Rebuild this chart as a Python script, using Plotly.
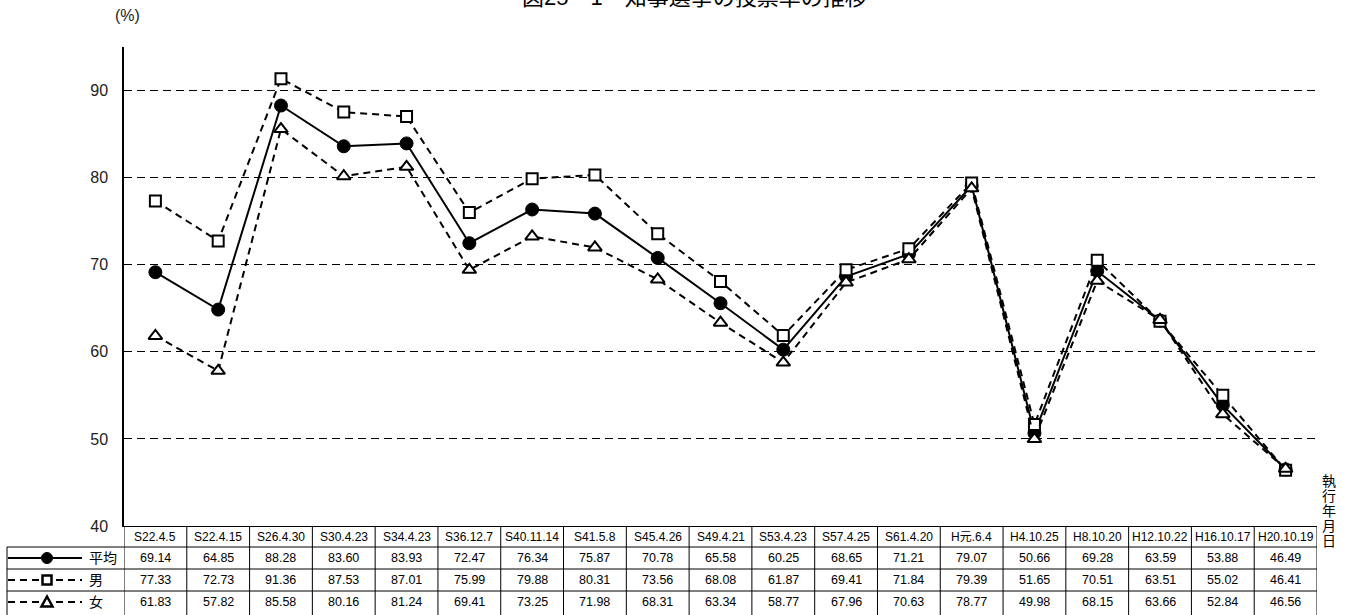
import plotly.graph_objects as go

# ---------------- data ----------------
dates = ["S22.4.5", "S22.4.15", "S26.4.30", "S30.4.23", "S34.4.23", "S36.12.7",
         "S40.11.14", "S41.5.8", "S45.4.26", "S49.4.21", "S53.4.23", "S57.4.25",
         "S61.4.20", "H元.6.4", "H4.10.25", "H8.10.20", "H12.10.22", "H16.10.17",
         "H20.10.19"]
avg = [69.14, 64.85, 88.28, 83.60, 83.93, 72.47, 76.34, 75.87, 70.78, 65.58,
       60.25, 68.65, 71.21, 79.07, 50.66, 69.28, 63.59, 53.88, 46.49]
male = [77.33, 72.73, 91.36, 87.53, 87.01, 75.99, 79.88, 80.31, 73.56, 68.08,
        61.87, 69.41, 71.84, 79.39, 51.65, 70.51, 63.51, 55.02, 46.41]
female = [61.83, 57.82, 85.58, 80.16, 81.24, 69.41, 73.25, 71.98, 68.31, 63.34,
          58.77, 67.96, 70.63, 78.77, 49.98, 68.15, 63.66, 52.84, 46.56]
series_names = ["平均", "男", "女"]
yticks = [40, 50, 60, 70, 80, 90]
title_text = "図25－1　知事選挙の投票率の推移"
xlabel_chars = ["執", "行", "年", "月", "日"]

# ---------------- geometry ----------------
W, H = 1347, 615
L, R, T, B = 124, 30, 47, 89
PW = W - L - R
PH = H - T - B
FONT = "Liberation Sans, Arial, Noto Sans CJK JP, sans-serif"


def px(X):
    return (X - L) / PW


def py(Y):
    return (H - B - Y) / PH


idx = list(range(len(dates)))

fig = go.Figure()
styles = [
    dict(line=dict(color="black", width=2),
         marker=dict(symbol="circle", size=13, color="black",
                     line=dict(color="black", width=1))),
    dict(line=dict(color="black", width=2, dash="7px,5px"),
         marker=dict(symbol="square", size=11, color="white",
                     line=dict(color="black", width=2))),
    dict(line=dict(color="black", width=2, dash="7px,5px"),
         marker=dict(symbol="triangle-up", size=12, color="white",
                     line=dict(color="black", width=2))),
]
for name, vals, st in zip(series_names, [avg, male, female], styles):
    fig.add_trace(go.Scatter(x=idx, y=vals, name=name, mode="lines+markers",
                             line=st["line"], marker=st["marker"],
                             cliponaxis=False, showlegend=False))

shapes = []
annotations = []

# table rows (pixel y)
row_edges = [H - B, 547, 569, 591, 613]
row_centers = [(row_edges[i] + row_edges[i + 1]) / 2 for i in range(4)]

# horizontal lines
for Y in row_edges[1:4]:
    shapes.append(dict(type="line", xref="paper", yref="paper",
                       x0=px(7), x1=1, y0=py(Y), y1=py(Y),
                       line=dict(color="black", width=1)))
# vertical lines
for i in range(len(dates) + 1):
    shapes.append(dict(type="line", xref="x", yref="paper",
                       x0=i - 0.5, x1=i - 0.5, y0=0, y1=py(618),
                       line=dict(color="black", width=1)))
shapes.append(dict(type="line", xref="paper", yref="paper",
                   x0=px(7), x1=px(7), y0=py(547), y1=py(618),
                   line=dict(color="black", width=1)))

# header and values
for i, d in enumerate(dates):
    annotations.append(dict(x=i, y=py(row_centers[0]), xref="x", yref="paper",
                            text=d, showarrow=False, xanchor="center", yanchor="middle",
                            font=dict(size=12, color="black", family=FONT)))
    for r, vals in enumerate([avg, male, female]):
        annotations.append(dict(x=i, y=py(row_centers[r + 1]), xref="x", yref="paper",
                                text=f"{vals[i]:.2f}", showarrow=False,
                                xanchor="center", yanchor="middle",
                                font=dict(size=12.5, color="black", family=FONT)))

# legend cells
for r, name in enumerate(series_names):
    Yc = row_centers[r + 1]
    shapes.append(dict(type="line", xref="paper", yref="paper",
                       x0=px(8), x1=px(82), y0=py(Yc), y1=py(Yc),
                       line=dict(color="black", width=2,
                                 dash="solid" if r == 0 else "7px,5px")))
    annotations.append(dict(x=px(87), y=py(Yc), xref="paper", yref="paper",
                            text=name, showarrow=False, xanchor="left", yanchor="middle",
                            font=dict(size=14, color="black", family=FONT)))
Yc = row_centers[1]
shapes.append(dict(type="circle", xref="paper", yref="paper",
                   x0=px(41.5), x1=px(52.5), y0=py(Yc + 5.5), y1=py(Yc - 5.5),
                   fillcolor="black", line=dict(color="black", width=1)))
Yc = row_centers[2]
shapes.append(dict(type="rect", xref="paper", yref="paper",
                   x0=px(42.5), x1=px(51.5), y0=py(Yc + 4.5), y1=py(Yc - 4.5),
                   fillcolor="white", line=dict(color="black", width=2.5)))
Yc = row_centers[3]
tri = (f"M {px(41.5)},{py(Yc + 4.5)} L {px(52.5)},{py(Yc + 4.5)} "
       f"L {px(47)},{py(Yc - 5.5)} Z")
shapes.append(dict(type="path", xref="paper", yref="paper", path=tri,
                   fillcolor="white", line=dict(color="black", width=2.5)))

# (%) label
annotations.append(dict(x=px(127), y=py(15), xref="paper", yref="paper",
                        text="(%)", showarrow=False, xanchor="center", yanchor="middle",
                        font=dict(size=16, color="#222", family=FONT)))
# title (partially cut off at the top)
annotations.append(dict(x=px(694), y=py(-2), xref="paper", yref="paper",
                        text=title_text, showarrow=False, xanchor="center",
                        yanchor="middle",
                        font=dict(size=22, color="black", family=FONT)))
# vertical x-axis label
for k, ch in enumerate(xlabel_chars):
    annotations.append(dict(x=px(1329), y=py(481 + 15 * k), xref="paper", yref="paper",
                            text=ch, showarrow=False, xanchor="center", yanchor="middle",
                            font=dict(size=14, color="black", family=FONT)))

fig.update_layout(
    width=W, height=H,
    margin=dict(l=L, r=R, t=T, b=B, pad=0),
    paper_bgcolor="white", plot_bgcolor="white",
    font=dict(family=FONT, color="black"),
    xaxis=dict(range=[-0.5, len(dates) - 0.5], showticklabels=False, showgrid=False,
               zeroline=False, showline=True, linecolor="black", linewidth=1,
               ticks=""),
    yaxis=dict(range=[40, 95], tickvals=yticks, showgrid=True, gridcolor="black",
               griddash="8px,5px", gridwidth=1, zeroline=False,
               showline=True, linecolor="black", linewidth=1.5,
               ticks="outside", ticklen=11, tickcolor="rgba(0,0,0,0)",
               tickfont=dict(size=16, color="#222", family=FONT)),
    shapes=shapes, annotations=annotations,
)

fig.write_html("out.html",
               config={"displayModeBar": False},
               post_script="document.body.style.margin='0';"
                           "document.body.style.overflow='hidden';")
